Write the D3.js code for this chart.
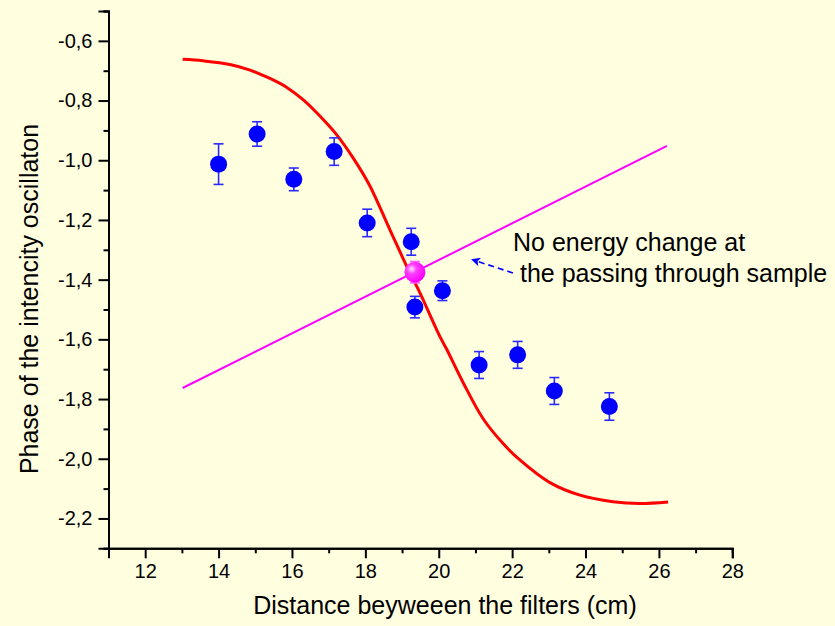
<!DOCTYPE html>
<html>
<head>
<meta charset="utf-8">
<script src="https://cdn.jsdelivr.net/npm/d3@7"></script>
<style>
  html, body { margin: 0; padding: 0; background: #FFFFE0; }
  svg { display: block; }
  text { font-family: "Liberation Sans", Arial, sans-serif; fill: #000; }
</style>
</head>
<body>
<svg id="chart" width="835" height="626"></svg>
<script>
// ---- data ----
const distances = [14, 15.05, 16.05, 17.15, 18.05, 19.25, 19.35, 20.1, 21.1, 22.15, 23.15, 24.65];
const phases    = [-1.013, -0.912, -1.064, -0.971, -1.21, -1.273, -1.492, -1.437, -1.686, -1.652, -1.773, -1.825];
const phaseErr  = [0.068, 0.041, 0.038, 0.046, 0.046, 0.045, 0.036, 0.033, 0.045, 0.045, 0.045, 0.046];

const specialX = [19.35];
const specialY = [-1.375];
const specialErr = [0.036];

const fitX = [13.02, 13.58, 14.31, 14.86, 15.40, 15.86, 16.31, 16.76, 17.22, 17.67, 18.11, 18.67, 19.13, 19.49, 20.03, 20.22, 20.67, 21.21, 21.76, 22.21, 23.03, 23.85, 24.75, 25.48, 26.25];
const fitY = [-0.662, -0.667, -0.679, -0.698, -0.726, -0.756, -0.798, -0.852, -0.915, -0.993, -1.083, -1.233, -1.356, -1.445, -1.590, -1.634, -1.746, -1.866, -1.950, -2.004, -2.080, -2.122, -2.144, -2.150, -2.145];

const lineX = [13.02, 26.22];
const lineY = [-1.763, -0.952];

const xMajorTicks = [12, 14, 16, 18, 20, 22, 24, 26, 28];
const xMinorTicks = [11, 13, 15, 17, 19, 21, 23, 25, 27];
const yMajorTicks = [-0.6, -0.8, -1.0, -1.2, -1.4, -1.6, -1.8, -2.0, -2.2];
const yMinorTicks = [-0.5, -0.7, -0.9, -1.1, -1.3, -1.5, -1.7, -1.9, -2.1, -2.3];

const xTitle = "Distance beyweeen the filters (cm)";
const yTitle = "Phase of the intencity oscillaton";
const noteLines = ["No energy change at", " the passing through sample"];

// ---- layout ----
const svg = d3.select("#chart");
const x = d3.scaleLinear().domain([11, 28]).range([108.5, 732.3]);
const y = d3.scaleLinear().domain([-2.3, -0.5]).range([548.3, 11]);
const fmt = d => d.toFixed(1).replace(".", ",");

const defs = svg.append("defs");
const grad = defs.append("radialGradient").attr("id", "pinkGrad")
  .attr("cx", "35%").attr("cy", "35%").attr("r", "65%");
grad.append("stop").attr("offset", "0%").attr("stop-color", "#ffe0ff");
grad.append("stop").attr("offset", "35%").attr("stop-color", "#ff40ff");
grad.append("stop").attr("offset", "100%").attr("stop-color", "#ff00ff");

defs.append("marker").attr("id", "arrowHead")
  .attr("viewBox", "0 0 10 10").attr("refX", 2).attr("refY", 5)
  .attr("markerWidth", 13).attr("markerHeight", 9).attr("markerUnits", "userSpaceOnUse")
  .attr("orient", "auto")
  .append("path").attr("d", "M10,5 L0,0 L2.5,5 L0,10 Z").attr("fill", "#0000ff");

// axes
const xAxisMajor = d3.axisBottom(x).tickValues(xMajorTicks).tickSize(10).tickPadding(6).tickFormat(d3.format("d"));
const xAxisMinor = d3.axisBottom(x).tickValues(xMinorTicks).tickSize(5).tickFormat("");
const yAxisMajor = d3.axisLeft(y).tickValues(yMajorTicks).tickSize(10).tickPadding(6).tickFormat(fmt);
const yAxisMinor = d3.axisLeft(y).tickValues(yMinorTicks).tickSize(5).tickFormat("");

function styleAxis(g) {
  g.selectAll("path.domain").attr("stroke", "#000").attr("stroke-width", 2);
  g.selectAll(".tick line").attr("stroke", "#000").attr("stroke-width", 2);
  g.selectAll(".tick text").attr("font-size", 20).attr("font-family", "'Liberation Sans', Arial, sans-serif").attr("fill", "#000");
}
const gx = svg.append("g").attr("transform", `translate(0,${y(-2.3)})`);
gx.append("g").call(xAxisMinor).call(styleAxis);
gx.append("g").call(xAxisMajor).call(styleAxis);
const gy = svg.append("g").attr("transform", `translate(${x(11)},0)`);
gy.append("g").call(yAxisMinor).call(styleAxis);
gy.append("g").call(yAxisMajor).call(styleAxis);

// titles
svg.append("text").attr("x", 445).attr("y", 614).attr("text-anchor", "middle")
  .attr("font-size", 25).text(xTitle);
svg.append("text").attr("transform", "translate(38,299) rotate(-90)").attr("text-anchor", "middle")
  .attr("font-size", 25).text(yTitle);

// red fit curve
const curve = d3.line().x(d => x(d[0])).y(d => y(d[1])).curve(d3.curveCatmullRom.alpha(0.5));
svg.append("path").datum(fitX.map((v, i) => [v, fitY[i]]))
  .attr("d", curve).attr("fill", "none").attr("stroke", "#ff0000").attr("stroke-width", 3);

// magenta line
svg.append("path").datum(lineX.map((v, i) => [v, lineY[i]]))
  .attr("d", d3.line().x(d => x(d[0])).y(d => y(d[1])))
  .attr("fill", "none").attr("stroke", "#ff00ff").attr("stroke-width", 2);

// data points with error bars
const pts = distances.map((v, i) => ({ x: v, y: phases[i], e: phaseErr[i] }));
const cap = 5;
const gp = svg.append("g");
const eb = gp.selectAll("g.eb").data(pts).join("g").attr("class", "eb")
  .attr("stroke", "#2a2aff").attr("stroke-width", 1.6);
eb.append("line").attr("x1", d => x(d.x)).attr("x2", d => x(d.x))
  .attr("y1", d => y(d.y + d.e)).attr("y2", d => y(d.y - d.e));
eb.append("line").attr("x1", d => x(d.x) - cap).attr("x2", d => x(d.x) + cap)
  .attr("y1", d => y(d.y + d.e)).attr("y2", d => y(d.y + d.e));
eb.append("line").attr("x1", d => x(d.x) - cap).attr("x2", d => x(d.x) + cap)
  .attr("y1", d => y(d.y - d.e)).attr("y2", d => y(d.y - d.e));
gp.selectAll("circle").data(pts).join("circle")
  .attr("cx", d => x(d.x)).attr("cy", d => y(d.y)).attr("r", 8.5).attr("fill", "#0000ff");

// special magenta point
const sp = specialX.map((v, i) => ({ x: v, y: specialY[i], e: specialErr[i] }));
const sg = svg.append("g");
const seb = sg.selectAll("g").data(sp).join("g").attr("stroke", "#ff66ff").attr("stroke-width", 1.6);
seb.append("line").attr("x1", d => x(d.x) - cap).attr("x2", d => x(d.x) + cap)
  .attr("y1", d => y(d.y + d.e)).attr("y2", d => y(d.y + d.e));
seb.append("line").attr("x1", d => x(d.x) - cap).attr("x2", d => x(d.x) + cap)
  .attr("y1", d => y(d.y - d.e)).attr("y2", d => y(d.y - d.e));
sg.selectAll("circle").data(sp).join("circle")
  .attr("cx", d => x(d.x)).attr("cy", d => y(d.y)).attr("r", 10.5).attr("fill", "url(#pinkGrad)");

// annotation
const note = svg.append("text").attr("font-size", 25).attr("xml:space", "preserve");
note.append("tspan").attr("x", 513).attr("y", 251).text(noteLines[0]);
note.append("tspan").attr("x", 513).attr("y", 282).style("white-space", "pre").text(noteLines[1]);

// dashed arrow pointing at the crossing
svg.append("line")
  .attr("x1", 513).attr("y1", 273).attr("x2", 478).attr("y2", 261.5)
  .attr("stroke", "#0000ff").attr("stroke-width", 1.6).attr("stroke-dasharray", "6,4")
  .attr("marker-end", "url(#arrowHead)");
</script>
</body>
</html>
